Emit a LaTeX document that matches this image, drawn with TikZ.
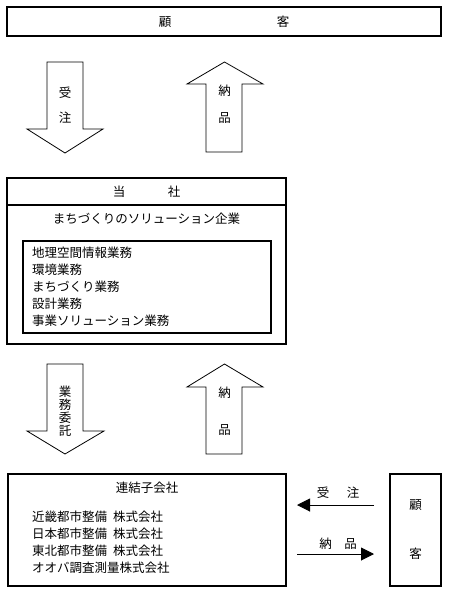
\documentclass[tikz,border=0pt]{standalone}
\usepackage{fontspec}
\setmainfont{Noto Sans CJK JP}
\usepackage{tikz}
\usetikzlibrary{arrows.meta,positioning}
\newcommand{\rowsfont}{\fontsize{12.5pt}{17pt}\selectfont}
\tikzset{%
box/.style={draw, line width=1.2pt, outer sep=0pt, inner sep=0pt},
txt/.style={inner sep=0pt},
vlabel/.style={inner sep=0pt, align=center},
blockarrow/.style={draw, line width=0.8pt, fill=white, line join=miter},
flow/.style={draw, line width=1pt, -{Triangle[length=13pt,width=13pt]}}
}
\begin{document}
\begin{tikzpicture}[x=1pt, y=-1pt, font=\fontsize{12.5pt}{13pt}\selectfont]
			\useasboundingbox (0,0) rectangle (448,592);
			% top
			\node[box, minimum width=434pt, minimum height=29pt] (client) at (224,21.5) {顧\hspace{105.5pt}客};
			\draw[blockarrow] (47,62) -- (83,62) -- (83,129) -- (103,129) -- (65,153) -- (27,129) -- (47,129) -- cycle;
			\draw[blockarrow] (224.5,62) -- (263,84) -- (242,84) -- (242,152) -- (206,152) -- (206,84) -- (187,84) -- cycle;
			\node[vlabel] (order) at (65,105.5) {受\\[12pt]注};
			\node[vlabel] (deliver) at (224.5,104.5) {納\\[14pt]品};
			% middle
			\node[box, minimum width=279pt, minimum height=27pt] (firm) at (146.5,191.5) {当\hspace{42.5pt}社};
			\node[box, minimum width=279pt, minimum height=139pt, below=0pt of firm] (firmbody) {};
			\node[txt] (mission) at (146.5,219) {まちづくりのソリューション企業};
			\node[box, text width=230pt, inner xsep=9pt, minimum height=92pt, align=left, font=\rowsfont] (services) at (147,287)
				{地理空間情報業務\\環境業務\\まちづくり業務\\設計業務\\事業ソリューション業務};
			\draw[blockarrow] (47,364) -- (83,364) -- (83,431) -- (104,431) -- (65,454) -- (27,431) -- (47,431) -- cycle;
			\draw[blockarrow] (224.5,364) -- (263,387) -- (242,387) -- (242,454) -- (206,454) -- (206,387) -- (187,387) -- cycle;
			\node[vlabel] (commission) at (65,411) {業\\務\\委\\託};
			\node[vlabel] (deliverb) at (224.5,411.5) {納\\[24pt]品};
			% bottom
			\node[box, minimum width=278pt, minimum height=112pt] (subsid) at (147,530) {};
			\node[txt] (subsidtitle) at (147,488) {連結子会社};
			\node[txt, anchor=west, align=left, font=\rowsfont] (subsidlist) at (32,542.5)
				{近畿都市整備\hspace{6pt}株式会社\\日本都市整備\hspace{6pt}株式会社\\東北都市整備\hspace{6pt}株式会社\\オオバ調査測量株式会社};
			\node[box, minimum width=51pt, minimum height=112pt, align=center] (clientb) at (415.5,530) {顧\\[36pt]客};
			\draw[flow, shorten <=16pt, shorten >=11pt] ([yshift=25pt]clientb.west) -- ([yshift=25pt]subsid.east)
				node[midway, txt, yshift=12pt] (orderb) {受\hspace{17.5pt}注};
			\draw[flow, shorten <=11pt, shorten >=16pt] ([yshift=-24pt]subsid.east) -- ([yshift=-24pt]clientb.west)
				node[midway, txt, yshift=10pt] (deliverc) {納\hspace{12.5pt}品};
\end{tikzpicture}
\end{document}
